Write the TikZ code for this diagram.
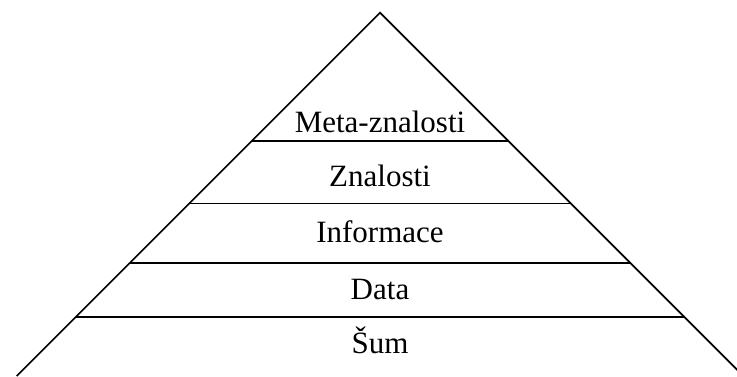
\documentclass[tikz,border=0pt]{standalone}
\usepackage{fontspec}
\setmainfont{Liberation Serif}
\begin{document}
\begin{tikzpicture}[x=1pt,y=-1pt,
  edge/.style={line width=1.7pt,black},
  layer/.style={anchor=base,inner sep=0pt,font=\fontsize{31}{36}\selectfont}]
\useasboundingbox (0,0) rectangle (737,376);
\clip (0,0) rectangle (737,376);
% apex and base corners of the pyramid
\coordinate (apex) at (380,12.7);
\coordinate (bl) at (16.7,376);
\coordinate (br) at (743.3,376);
\draw[edge] (bl) -- (apex) -- (br);
% horizontal dividers, ending on the sides
\foreach \y/\n in {140.7/a,203.5/b,263/c,317/d}{
  \pgfmathsetmacro{\h}{\y-12.7}
  \coordinate (\n l) at (380-\h,\y);
  \coordinate (\n r) at (380+\h,\y);
  \draw[edge] (\n l) -- (\n r);
}
% layer labels
\node[layer] (meta) at (380,132.7) {Meta-znalosti};
\node[layer] (zn) at (380,186.7) {Znalosti};
\node[layer] (inf) at (380,242.7) {Informace};
\node[layer] (data) at (380,299.3) {Data};
\node[layer] (sum) at (380,353.3) {Šum};
\end{tikzpicture}
\end{document}
